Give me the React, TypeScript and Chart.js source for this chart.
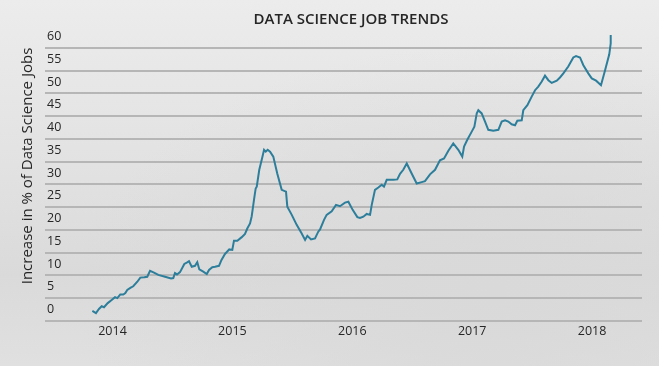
import React, { useEffect, useRef } from "react";
import { Chart, registerables } from "chart.js";

Chart.register(...registerables);

const TITLE = "DATA SCIENCE JOB TRENDS";
const Y_TITLE = "Increase in % of Data Science Jobs";

const yearTicks = [2014, 2015, 2016, 2017, 2018];
const valueTicks = [0, 5, 10, 15, 20, 25, 30, 35, 40, 45, 50, 55, 60];
const gridValues = [-2.5, 2.5, 7.5, 12.5, 17.5, 22.5, 27.5, 32.5, 37.5, 42.5, 47.5, 52.5, 57.5];

// decimal years
const dates = [
  2013.832, 2013.862, 2013.887, 2013.910, 2013.929, 2013.960, 2013.993, 2014.021, 2014.040, 2014.065,
  2014.090, 2014.107, 2014.123, 2014.152, 2014.173, 2014.207, 2014.232, 2014.265, 2014.290, 2014.313,
  2014.346, 2014.382, 2014.438, 2014.488, 2014.507, 2014.521, 2014.538, 2014.563, 2014.599, 2014.619,
  2014.638, 2014.661, 2014.688, 2014.707, 2014.724, 2014.757, 2014.786, 2014.805, 2014.832, 2014.855,
  2014.888, 2014.909, 2014.938, 2014.974, 2014.999, 2015.013, 2015.041, 2015.078, 2015.105, 2015.124,
  2015.147, 2015.161, 2015.180, 2015.194, 2015.203, 2015.224, 2015.247, 2015.264, 2015.278, 2015.294,
  2015.314, 2015.341, 2015.374, 2015.411, 2015.447, 2015.458, 2015.495, 2015.536, 2015.578, 2015.606,
  2015.625, 2015.656, 2015.689, 2015.716, 2015.731, 2015.764, 2015.786, 2015.828, 2015.864, 2015.897,
  2015.939, 2015.967, 2016.003, 2016.042, 2016.064, 2016.092, 2016.120, 2016.148, 2016.162, 2016.189,
  2016.217, 2016.245, 2016.264, 2016.287, 2016.342, 2016.375, 2016.398, 2016.425, 2016.454, 2016.495,
  2016.537, 2016.579, 2016.606, 2016.648, 2016.690, 2016.731, 2016.765, 2016.801, 2016.842, 2016.884,
  2016.917, 2016.932, 2016.959, 2016.996, 2017.018, 2017.038, 2017.051, 2017.079, 2017.107, 2017.134,
  2017.176, 2017.218, 2017.246, 2017.274, 2017.301, 2017.329, 2017.357, 2017.376, 2017.413, 2017.426,
  2017.460, 2017.496, 2017.524, 2017.551, 2017.580, 2017.607, 2017.635, 2017.663, 2017.705, 2017.732,
  2017.760, 2017.801, 2017.843, 2017.866, 2017.899, 2017.927, 2017.968, 2017.997, 2018.033, 2018.074,
  2018.108, 2018.143, 2018.155, 2018.155, 2018.147,
];

const values = [
  -0.3, -0.8, 0.1, 0.7, 0.5, 1.4, 2.1, 2.7, 2.5, 3.3,
  3.3, 3.6, 4.3, 4.8, 5.1, 6.1, 7.0, 7.1, 7.2, 8.5,
  8.1, 7.6, 7.2, 6.8, 6.9, 8.0, 7.7, 8.2, 10.0, 10.3,
  10.6, 9.4, 9.6, 10.4, 8.8, 8.3, 7.8, 8.7, 9.3, 9.4,
  9.6, 10.9, 12.2, 13.2, 13.1, 15.1, 15.1, 15.9, 16.6, 17.8,
  18.9, 20.5, 24.1, 26.6, 27.0, 30.7, 33.2, 35.1, 34.7, 35.1,
  34.7, 33.6, 29.9, 26.3, 25.9, 22.6, 20.8, 18.6, 16.7, 15.3,
  16.2, 15.4, 15.6, 17.1, 17.6, 19.7, 20.8, 21.6, 23.0, 22.7,
  23.5, 23.7, 21.9, 20.3, 20.1, 20.4, 21.0, 20.8, 23.0, 26.3,
  26.8, 27.4, 27.0, 28.5, 28.5, 28.6, 29.8, 30.7, 32.1, 29.9,
  27.7, 28.0, 28.2, 29.7, 30.7, 32.8, 33.2, 34.9, 36.5, 35.1,
  33.6, 35.8, 37.3, 39.1, 40.2, 43.1, 43.8, 43.1, 41.3, 39.5,
  39.3, 39.5, 41.3, 41.6, 41.3, 40.7, 40.5, 41.5, 41.6, 43.8,
  44.9, 46.8, 48.2, 49.0, 50.1, 51.4, 50.4, 49.8, 50.3, 51.0,
  51.9, 53.4, 55.4, 55.7, 55.4, 53.7, 51.9, 50.8, 50.3, 49.3,
  52.6, 56.1, 58.5, 60.1, 60.1,
];

const FONT = '"Open Sans", sans-serif';
const TEXT_COLOR = "#262626";
const GRID_COLOR = "#b6b6b6";

// gridlines sit half a step below each value tick, positioned through the y scale
const gridPlugin = {
  id: "halfStepGrid",
  beforeDatasetsDraw(chart: any) {
    const { ctx, chartArea, scales } = chart;
    const y = scales.y;
    ctx.save();
    ctx.globalAlpha = 1;
    ctx.setLineDash([]);
    ctx.strokeStyle = GRID_COLOR;
    ctx.lineWidth = 2;
    for (const v of gridValues) {
      const py = Math.round(y.getPixelForValue(v));
      ctx.beginPath();
      ctx.moveTo(chartArea.left, py);
      ctx.lineTo(chartArea.right, py);
      ctx.stroke();
    }
    ctx.restore();
  },
};

const textPlugin = {
  id: "texts",
  afterDraw(chart: any) {
    const ctx = chart.ctx;
    ctx.save();
    ctx.fillStyle = TEXT_COLOR;
    ctx.textAlign = "center";
    ctx.textBaseline = "middle";
    ctx.font = `600 15px ${FONT}`;
    ctx.fillText(TITLE, 351, 20);
    ctx.translate(28, 166);
    ctx.rotate(-Math.PI / 2);
    ctx.font = `15px ${FONT}`;
    ctx.fillText(Y_TITLE, 0, 0);
    ctx.restore();
  },
};

export default function App() {
  const ref = useRef<HTMLCanvasElement | null>(null);

  useEffect(() => {
    document.body.style.margin = "0";
    const canvas = ref.current;
    if (!canvas) return;
    const chart = new Chart(canvas, {
      type: "line",
      data: {
        datasets: [
          {
            data: dates.map((d, i) => ({ x: d, y: values[i] })),
            borderColor: "#2d7e9b",
            borderWidth: 2,
            pointRadius: 0,
            tension: 0,
            fill: false,
          },
        ],
      },
      options: {
        animation: false,
        responsive: false,
        devicePixelRatio: 1,
        layout: { padding: { left: 0, right: 17, top: 33.8, bottom: 0 } },
        plugins: {
          legend: { display: false },
          title: { display: false },
          tooltip: { enabled: false },
        },
        scales: {
          x: {
            type: "linear",
            min: 2013.437,
            max: 2018.416,
            afterBuildTicks: (s: any) => {
              s.ticks = yearTicks.map((v) => ({ value: v }));
            },
            afterFit: (s: any) => {
              s.height = 44.7;
            },
            ticks: {
              callback: (v: any) => String(v),
              color: TEXT_COLOR,
              font: { size: 12.5, family: FONT },
              padding: 3,
              maxRotation: 0,
              autoSkip: false,
            },
            grid: { display: false, drawTicks: false },
            border: { display: false },
          },
          y: {
            type: "linear",
            position: "left",
            min: -2.6,
            max: 60.6,
            afterBuildTicks: (s: any) => {
              s.ticks = valueTicks.map((v) => ({ value: v }));
            },
            afterFit: (s: any) => {
              s.width = 45;
            },
            ticks: {
              mirror: true,
              padding: 2,
              color: TEXT_COLOR,
              font: { size: 12.5, family: FONT },
              autoSkip: false,
            },
            grid: { display: false, drawTicks: false },
            border: { display: false },
          },
        },
      },
      plugins: [gridPlugin, textPlugin],
    } as any);
    return () => chart.destroy();
  }, []);

  return (
    <div
      style={{
        position: "fixed",
        left: 0,
        top: 0,
        width: 659,
        height: 366,
        background:
          "radial-gradient(ellipse at 75% 80%, #d9d9d9 0%, rgba(217,217,217,0) 60%), linear-gradient(180deg, #ececec 0%, #e2e2e2 45%, #dadada 75%, #e0e0e0 100%)",
      }}
    >
      <canvas ref={ref} width={659} height={366} />
    </div>
  );
}
